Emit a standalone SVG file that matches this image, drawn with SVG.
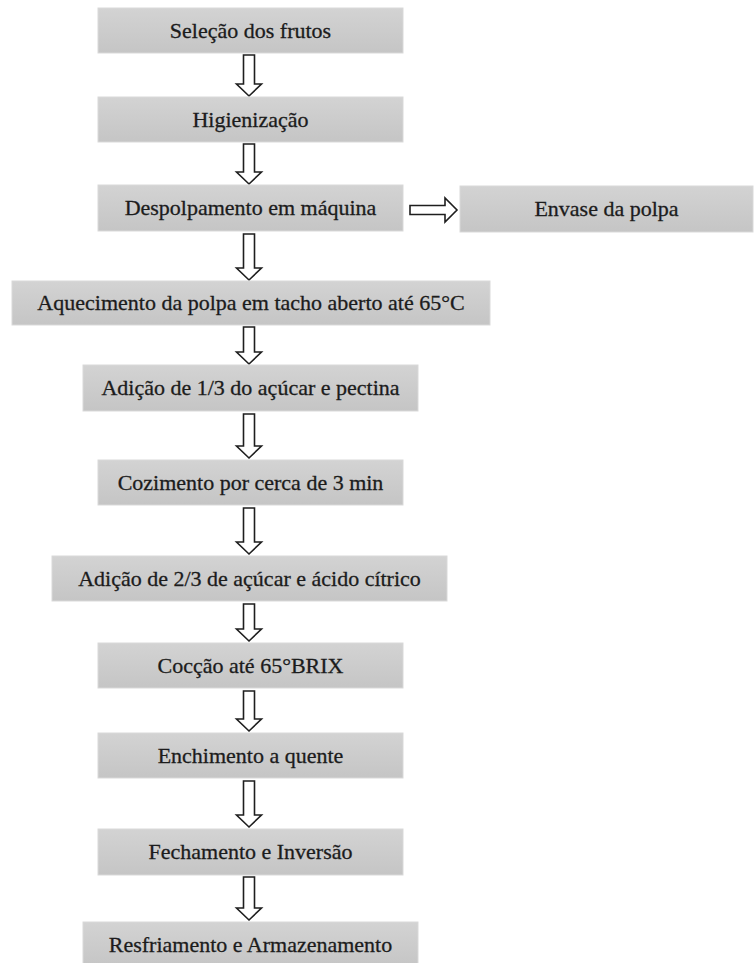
<svg xmlns="http://www.w3.org/2000/svg" width="755" height="963" viewBox="0 0 755 963">
<defs>
<linearGradient id="g" x1="0" y1="0" x2="0" y2="1">
<stop offset="0" stop-color="#d3d3d3"/>
<stop offset="1" stop-color="#c5c5c5"/>
</linearGradient>
</defs>
<style>
.box{fill:url(#g);stroke:#d9d9d9;stroke-width:1}
.t{font-family:'Liberation Serif','Times New Roman',Times,'DejaVu Serif',serif;font-size:22px;fill:#1c1c1c;stroke:#1c1c1c;stroke-width:0.3;text-anchor:middle}
.arr{fill:#ffffff;stroke:#1e1e1e;stroke-width:1.6;stroke-linejoin:miter}
</style>
<rect width="755" height="963" fill="#ffffff"/>
<g id="connectors">
<path class="arr" d="M243.5,55 H254.5 V84 H261.5 L249,96 L236.5,84 H243.5 Z"/>
<path class="arr" d="M243.5,144 H254.5 V172 H261.5 L249,184 L236.5,172 H243.5 Z"/>
<path class="arr" d="M243.5,234 H254.5 V268 H261.5 L249,280 L236.5,268 H243.5 Z"/>
<path class="arr" d="M243.5,327 H254.5 V352 H261.5 L249,364 L236.5,352 H243.5 Z"/>
<path class="arr" d="M243.5,414 H254.5 V446 H261.5 L249,458 L236.5,446 H243.5 Z"/>
<path class="arr" d="M243.5,508 H254.5 V542 H261.5 L249,554 L236.5,542 H243.5 Z"/>
<path class="arr" d="M243.5,604 H254.5 V629 H261.5 L249,641 L236.5,629 H243.5 Z"/>
<path class="arr" d="M243.5,691 H254.5 V719 H261.5 L249,731 L236.5,719 H243.5 Z"/>
<path class="arr" d="M243.5,781 H254.5 V815 H261.5 L249,827 L236.5,815 H243.5 Z"/>
<path class="arr" d="M243.5,877 H254.5 V908 H261.5 L249,920 L236.5,908 H243.5 Z"/>
<path class="arr" d="M410,205.5 H445 V198 L457,210 L445,222 V214.5 H410 Z"/>
</g>
<g id="n1"><rect class="box" x="98" y="8" width="305" height="45"/><text class="t" x="250.5" y="38">Seleção dos frutos</text></g>
<g id="n2"><rect class="box" x="98" y="97" width="305" height="45"/><text class="t" x="250.5" y="127">Higienização</text></g>
<g id="n3"><rect class="box" x="98" y="185" width="305" height="46"/><text class="t" x="250.5" y="215">Despolpamento em máquina</text></g>
<g id="n3b"><rect class="box" x="460" y="186" width="293" height="46"/><text class="t" x="606.5" y="216">Envase da polpa</text></g>
<g id="n4"><rect class="box" x="12" y="281" width="478" height="44"/><text class="t" x="251" y="310">Aquecimento da polpa em tacho aberto até 65°C</text></g>
<g id="n5"><rect class="box" x="83" y="365" width="335" height="46"/><text class="t" x="250.5" y="395">Adição de 1/3 do açúcar e pectina</text></g>
<g id="n6"><rect class="box" x="98" y="460" width="305" height="45"/><text class="t" x="250.5" y="490">Cozimento por cerca de 3 min</text></g>
<g id="n7"><rect class="box" x="52" y="556" width="395" height="45"/><text class="t" x="249.5" y="586">Adição de 2/3 de açúcar e ácido cítrico</text></g>
<g id="n8"><rect class="box" x="98" y="643" width="305" height="45"/><text class="t" x="250.5" y="673">Cocção até 65°BRIX</text></g>
<g id="n9"><rect class="box" x="98" y="733" width="305" height="45"/><text class="t" x="250.5" y="763">Enchimento a quente</text></g>
<g id="n10"><rect class="box" x="98" y="829" width="305" height="46"/><text class="t" x="250.5" y="859">Fechamento e Inversão</text></g>
<g id="n11"><rect class="box" x="83" y="922" width="335" height="46"/><text class="t" x="250.5" y="952">Resfriamento e Armazenamento</text></g>
</svg>
